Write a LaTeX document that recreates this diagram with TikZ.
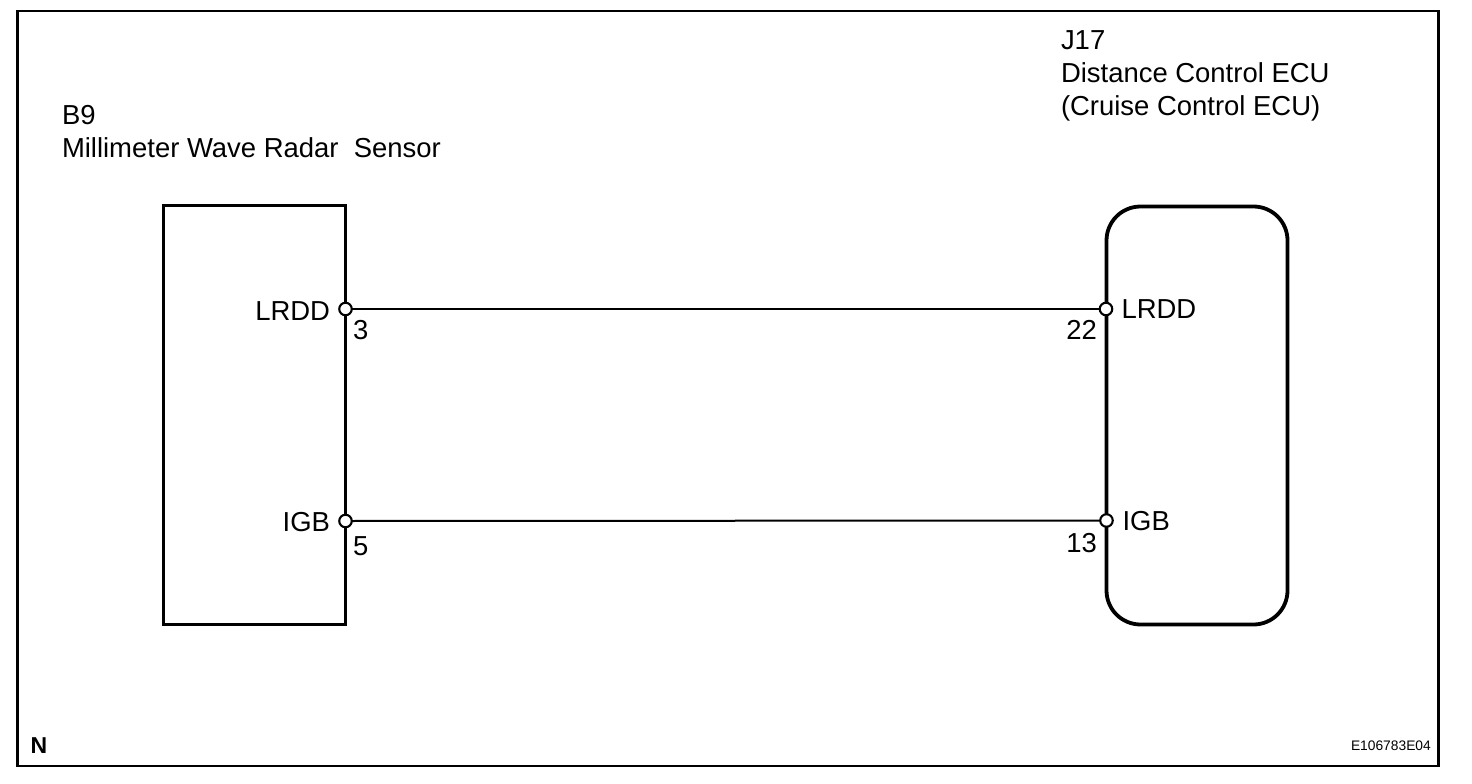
\documentclass[tikz,border=0pt]{standalone}
\usepackage{fontspec}
\setmainfont{Liberation Sans}
\tikzset{
  x=1pt,y=-1pt,
  frame/.style={draw=black,line width=2.4pt,fill=none,inner sep=0pt,outer sep=0pt,minimum width=1421pt,minimum height=755pt},
  sq/.style={draw=black,line width=3pt,fill=none,inner sep=0pt,outer sep=0pt,minimum width=182pt,minimum height=419pt},
  rd/.style={sq,line width=3.8pt,minimum width=181pt,minimum height=418pt,rounded corners=34pt},
  pin/.style={circle,draw=black,fill=white,line width=2.1pt,inner sep=0pt,minimum size=12.5pt,outer sep=0pt},
  wire/.style={draw=black,line width=2pt},
  lab/.style={font=\fontsize{27.45}{33.5}\selectfont,text=black,inner sep=0pt,outer sep=0pt,anchor=base west,align=left},
  labr/.style={lab,anchor=base east},
  nn/.style={font=\fontsize{23}{26}\selectfont\bfseries,text=black,inner sep=0pt,anchor=base west},
  code/.style={font=\fontsize{13.8}{17}\selectfont,text=black,inner sep=0pt,anchor=base east}
}
\begin{document}
\begin{tikzpicture}
\useasboundingbox (0,0) rectangle (1472,784);
\node[frame] (fr) at (728,388.5) {};
\node[sq] (lbox) at (254.5,415) {};
\node[rd] (rbox) at (1197,415.5) {};
\node[pin] (p1) at (345.5,309) {};
\node[pin] (p2) at (345.5,521) {};
\node[pin] (p3) at (1106,309) {};
\node[pin] (p4) at (1106.5,520.5) {};
\draw[wire] (p1) -- (p3);
\draw[wire] (p2) -- (p4);
\node[lab] (t1) at (62,124) {B9};
\node[lab] (t2) at (62,157) {Millimeter Wave Radar\ \ Sensor};
\node[lab] (t3) at (1061,49) {J17};
\node[lab] (t4) at (1061,82) {Distance Control ECU};
\node[lab] (t5) at (1061,115) {(Cruise Control ECU)};
\node[labr] (a1) at (330,320) {LRDD};
\node[labr] (a2) at (330,531) {IGB};
\node[lab] (a3) at (1121.5,318) {LRDD};
\node[lab] (a4) at (1122.5,530) {IGB};
\node[lab] (n1) at (353,339) {3};
\node[lab] (n2) at (353,555) {5};
\node[labr] (n3) at (1097,339) {22};
\node[labr] (n4) at (1097,552) {13};
\node[nn] (nl) at (30.5,753) {N};
\node[code] (cd) at (1431,750) {E106783E04};
\end{tikzpicture}
\end{document}
